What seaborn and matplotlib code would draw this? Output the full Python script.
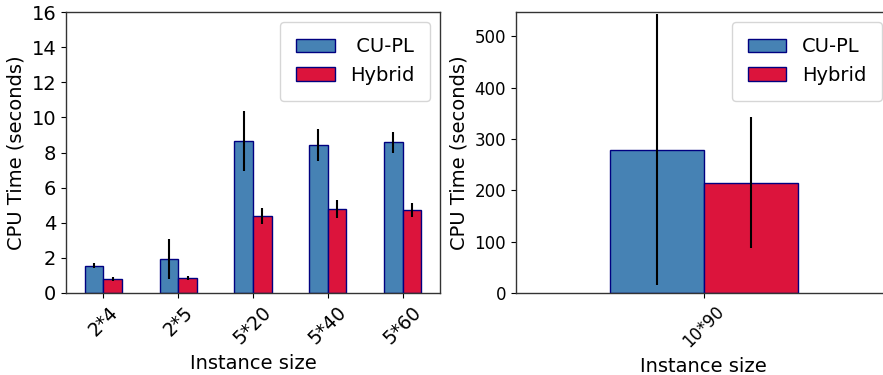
import numpy as np
import pandas as pd
import matplotlib
matplotlib.use("Agg")
import matplotlib.pyplot as plt
import seaborn as sns

# Small instances
sizes_small = ["2*4", "2*5", "5*20", "5*40", "5*60"]
cupl_small = [1.55, 1.92, 8.66, 8.43, 8.58]
cupl_small_err = [0.15, 1.14, 1.69, 0.92, 0.61]
hybrid_small = [0.81, 0.87, 4.40, 4.78, 4.71]
hybrid_small_err = [0.10, 0.11, 0.45, 0.52, 0.41]

# Large instance
sizes_large = ["10*90"]
cupl_large = [279]
cupl_large_err = [264]
hybrid_large = [215]
hybrid_large_err = [128]

methods = ["CU-PL", "Hybrid"]
palette = ["steelblue", "crimson"]

sns.set_style("ticks", rc={
    "text.color": "black",
    "axes.labelcolor": "black",
    "xtick.color": "black",
    "ytick.color": "black",
    "axes.edgecolor": "0.2",
})
plt.rcParams["font.family"] = ["DejaVu Sans"]


def make_frame(sizes, a, b):
    return pd.DataFrame({
        "size": list(sizes) * 2,
        "time": list(a) + list(b),
        "method": [methods[0]] * len(sizes) + [methods[1]] * len(sizes),
    })


def draw(ax, sizes, a, a_err, b, b_err, legend_labels, tick_fs, ytick_fs):
    df = make_frame(sizes, a, b)
    sns.barplot(data=df, x="size", y="time", hue="method", order=sizes,
                hue_order=methods, palette=palette, saturation=1,
                width=0.5, gap=0, errorbar=None, edgecolor="navy",
                linewidth=1, ax=ax)
    for cont, err in zip(ax.containers, [a_err, b_err]):
        xs = [p.get_x() + p.get_width() / 2 for p in cont]
        ys = [p.get_height() for p in cont]
        ax.errorbar(xs, ys, yerr=err, fmt="none", ecolor="black",
                    elinewidth=1.5, capsize=0, zorder=5)
    handles, _ = ax.get_legend_handles_labels()
    ax.legend(handles[:2], legend_labels, fontsize=14, loc="upper right",
              borderpad=0.8)
    ax.set_xlim(-0.5, len(sizes) - 0.5)
    ax.set_xlabel("Instance size", fontsize=14)
    ax.set_ylabel("CPU Time (seconds)", fontsize=14)
    ax.tick_params(axis="x", labelsize=tick_fs, rotation=45)
    ax.tick_params(axis="y", labelsize=ytick_fs)
    for s in ax.spines.values():
        s.set_linewidth(1.0)


fig = plt.figure(figsize=(8.83, 3.75), dpi=100)
ax1 = fig.add_axes([66 / 883, 82 / 375, 374 / 883, 281 / 375])
ax2 = fig.add_axes([515.7 / 883, 82 / 375, 376 / 883, 281 / 375])

draw(ax1, sizes_small, cupl_small, cupl_small_err, hybrid_small,
     hybrid_small_err, [" CU-PL", "Hybrid"], 13.5, 14)
ax1.set_ylim(0, 16)
ax1.set_yticks(np.arange(0, 17, 2))

draw(ax2, sizes_large, cupl_large, cupl_large_err, hybrid_large,
     hybrid_large_err, ["CU-PL", "Hybrid"], 12, 12)
ax2.set_ylim(0, 547)
ax2.set_yticks(np.arange(0, 501, 100))

fig.savefig("out.png", dpi=100)
